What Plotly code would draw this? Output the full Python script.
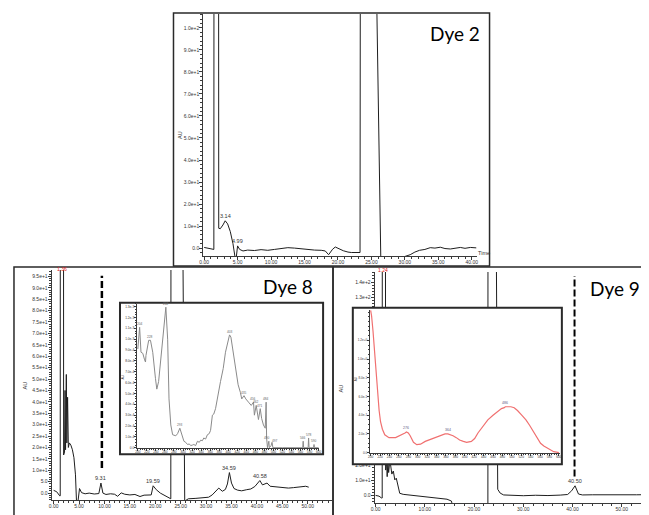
import plotly.graph_objects as go

# ---------------- data ----------------
# Dye 2 chromatogram (time in min, absorbance AU)
dye2_time = [0.0, 0.4, 0.8, 1.2, 1.44, 1.46, 2.15, 2.17, 2.4, 2.8, 3.14, 3.5, 3.9, 4.3, 4.6, 4.8, 4.99, 5.3, 5.8, 6.5,
             7.5, 8.5, 9.5, 10.5, 11.5, 12.5, 13.5, 14.5, 15.5, 16.5, 17.5, 18.1, 18.6, 19.2, 19.6, 20.2, 20.8, 21.5, 22.0, 23.3,
             23.35, 25.6, 26.4, 27.5, 28.5, 29.8, 30.8, 31.5, 32.2, 33.0, 33.8, 34.5, 35.3, 36.0, 36.8, 37.5, 38.3, 39.0, 39.8, 40.7]
dye2_au = [0.3, 0.0, -0.3, -0.5, -0.6, 150, 150, 9.0, 8.8, 10.5, 12.4, 11.0, 7.5, 2.0, -4.0, -4.0, 1.0, -0.6, -1.3, -0.9,
           -1.1, -0.7, -1.0, -0.6, -0.2, 0.2, 0.0, -0.4, -0.7, -0.9, -1.0, -1.3, -3.0, -0.5, 0.5, -0.4, -1.2, -1.8, -2.0, -2.0,
           150, 150, -4.0, -4.0, -4.0, -4.0, -3.0, -1.8, -1.0, -0.6, 0.2, 0.0, 0.4, -0.2, -0.4, 0.0, 0.3, -0.1, 0.3, 0.1]
dye2_peaks = [3.14, 4.99]

# Dye 8 chromatogram
dye8_time = [0.0, 0.6, 1.2, 1.30, 1.32, 1.95, 1.97, 2.15, 2.25, 2.35, 2.5, 2.6, 2.75, 2.9, 3.1, 3.4, 3.7, 4.0, 4.3, 4.5,
             4.8, 5.1, 5.5, 6.2, 7.0, 8.0, 8.9, 9.31, 9.7, 10.3, 11.2, 12.0, 12.6, 13.3, 14.0, 15.0, 16.0, 17.0, 17.8, 18.6,
             19.2, 19.59, 20.2, 21.0, 22.0, 22.9, 23.06, 23.1, 25.3, 25.8, 26.5, 28.0, 29.5, 30.5, 31.2, 31.8, 32.5, 33.2, 33.8, 34.2,
             34.59, 35.0, 35.5, 36.2, 37.0, 38.0, 38.8, 39.6, 40.1, 40.58, 41.1, 41.6, 42.0, 42.6, 43.4, 44.2, 45.2, 46.2, 47.2, 48.1,
             49.0, 49.6, 50.2]
dye8_au = [1.2, 0.6, -1.2, -1.2, 150, 150, 16.7, 18, 45, 19, 52, 22, 42, 20, 22, 21, 19, 15.5, 8, -3.5,
           -3.5, 2.0, 0.2, -0.3, 0.0, -0.4, -0.2, 4.4, 0.0, -0.6, -0.3, -0.5, -1.4, 0.1, -0.5, -0.8, -0.6, -1.5, -0.9, -1.0,
           -0.8, 3.2, 1.5, 0.0, -1.2, -2.0, -2.5, 150, 150, -3.5, -2.5, -2.3, -2.0, -1.8, -0.8, 0.5, 2.2, 0.8, 1.6, 4.0,
           9.0, 4.4, 2.0, 1.3, 1.0, 1.5, 1.8, 2.9, 4.2, 5.5, 3.6, 4.0, 4.4, 3.0, 2.8, 2.6, 2.4, 2.2, 2.4, 2.6,
           2.8, 3.0, 2.6]
dye8_peaks = [9.31, 19.59, 34.59, 40.58]
dye8_marker_time = 9.5
dye8_marker_au = [11.0, 95.3]

# Dye 8 inset UV-Vis spectrum (nm, AU x 1e-4)
dye8_wl = [200, 204, 207, 211, 215, 217, 218, 224, 228, 233,
           239, 242, 246, 251, 256, 262, 266, 269, 273, 277,
           284, 288, 293, 297, 302, 306, 310, 314, 317, 321,
           324, 328, 332, 336, 339, 343, 346, 350, 354, 358,
           361, 365, 368, 372, 378, 383, 389, 394, 403, 406,
           410, 416, 422, 427, 430, 435, 439, 445, 451, 456,
           458, 462, 465, 467, 471, 474, 478, 482, 484, 485,
           487, 490, 491, 495, 497, 499, 520, 540, 560, 565,
           566, 567, 577, 578, 579, 589, 590, 591, 600]
dye8_abs = [9.1, 11.1, 8.8, 8.7, 8.1, 7.9, 8.5, 9.9, 9.9, 8.8,
            6.4, 5.4, 6.1, 8.2, 10.0, 12.95, 10.0, 4.5, 2.1, 1.2,
            1.1, 1.3, 1.8, 1.2, 0.6, 0.5, 0.3, 0.35, 0.2, 0.25,
            0.3, 0.2, 0.6, 0.5, 0.7, 0.65, 0.9, 0.8, 1.2, 1.3,
            1.6, 3.0, 3.1, 3.6, 5.1, 6.1, 7.3, 8.8, 10.4, 10.2,
            9.1, 7.6, 5.8, 5.1, 4.5, 4.8, 4.5, 4.2, 3.9, 4.2,
            3.0, 3.9, 3.2, 2.6, 3.6, 2.7, 2.1, 1.8, 4.2, 0.9,
            0.0, 0.6, 0.0, 0.2, 0.5, 0.0, 0.0, 0.0, 0.0, 0.0,
            0.6, 0.0, 0.0, 0.9, 0.0, 0.0, 0.3, 0.0, 0.0]
dye8_spec_peaks = [204, 228, 262, 293, 403, 435, 456, 462, 471, 484, 490, 497, 566, 578, 590]

# Dye 9 chromatogram
dye9_time = [0.0, 0.7, 1.2, 1.34, 1.36, 2.0, 2.05, 2.2, 2.35, 2.5, 2.65, 2.8, 3.0, 3.3, 3.6, 3.9, 4.2, 4.6, 4.9, 5.6,
             7.0, 9.0, 11.0, 13.0, 14.5, 15.4, 15.7, 16.5, 19.0, 22.0, 22.8, 22.82, 24.5, 24.8, 25.3, 26.0, 27.5, 30.0, 32.5, 35.0,
             37.5, 39.0, 39.8, 40.5, 41.2, 42.0, 44.0, 47.0, 50.0, 53.0, 55.5]
dye9_au = [0.0, -0.5, -1.7, -1.7, 170, 170, 16.6, 25, 12.3, 22, 15, 20, 21, 14, 16, 10.2, 11.3, 4.7, 1.4, 0.7,
           0.2, -0.4, -1.0, -1.8, -2.5, -3.7, -8, -8, -8, -8, -8, 170, 170, 4.0, 1.5, 0.3, 0.0, -0.2, 0.1, -0.1,
           0.2, 0.6, 3.0, 6.3, 0.9, 0.3, 0.4, 0.3, 0.5, 0.4, 0.5]
dye9_peaks = [40.5]
dye9_marker_time = 40.4
dye9_marker_au = [12.4, 144.0]

# Dye 9 inset UV-Vis spectrum (nm, AU)
dye9_wl = [200, 202, 205, 208, 211, 214, 218, 221, 225, 230, 239, 253, 267, 273, 276, 280, 284, 288, 291, 298,
           306, 316, 327, 337, 348, 358, 364, 367, 375, 382, 389, 397, 404, 414, 421, 428, 438, 449, 460, 470,
           478, 484, 486, 492, 498, 505, 512, 521, 530, 538, 547, 554, 561, 568, 575, 582, 589, 595, 600]
dye9_abs = [1.52, 1.46, 1.30, 1.10, 0.88, 0.65, 0.45, 0.33, 0.25, 0.19, 0.16, 0.16, 0.19, 0.21, 0.22, 0.21, 0.18, 0.13, 0.11, 0.085,
            0.09, 0.12, 0.14, 0.16, 0.18, 0.20, 0.20, 0.195, 0.18, 0.16, 0.135, 0.12, 0.11, 0.12, 0.15, 0.21, 0.28, 0.35, 0.40, 0.44,
            0.47, 0.48, 0.49, 0.49, 0.49, 0.48, 0.45, 0.40, 0.35, 0.29, 0.22, 0.16, 0.10, 0.07, 0.05, 0.03, 0.01, 0.005, 0.0]
dye9_spec_peaks = [276, 364, 486]

# tick labels
dye2_yticks = [0, 10, 20, 30, 40, 50, 60, 70, 80, 90, 100]
dye2_ylabels = ["0.0", "1.0e+1", "2.0e+1", "3.0e+1", "4.0e+1", "5.0e+1", "6.0e+1", "7.0e+1", "8.0e+1", "9.0e+1", "1.0e+2"]
dye2_xticks = [0, 5, 10, 15, 20, 25, 30, 35, 40]
dye2_xlabels = ["0.00", "5.00", "10.00", "15.00", "20.00", "25.00", "30.00", "35.00", "40.00"]

dye8_yticks = [0, 5, 10, 15, 20, 25, 30, 35, 40, 45, 50, 55, 60, 65, 70, 75, 80, 85, 90, 95]
dye8_ylabels = ["0.0", "5.0", "1.0e+1", "1.5e+1", "2.0e+1", "2.5e+1", "3.0e+1", "3.5e+1", "4.0e+1", "4.5e+1",
                "5.0e+1", "5.5e+1", "6.0e+1", "6.5e+1", "7.0e+1", "7.5e+1", "8.0e+1", "8.5e+1", "9.0e+1", "9.5e+1"]
dye8_xticks = [0, 5, 10, 15, 20, 25, 30, 35, 40, 45, 50]
dye8_xlabels = ["0.00", "5.00", "10.00", "15.00", "20.00", "25.00", "30.00", "35.00", "40.00", "45.00", "50.00"]

# only the Dye 9 labels left visible beside the inset
dye9_yticks = [0, 10, 20, 130, 140]
dye9_ylabels = ["0.0", "1.0e+1", "2.0e+1", "1.3e+2", "1.4e+2"]
dye9_xticks = [0, 10, 20, 30, 40, 50]
dye9_xlabels = ["0.00", "10.00", "20.00", "30.00", "40.00", "50.00"]

wl_ticks = [200, 220, 240, 260, 280, 300, 320, 340, 360, 380, 400, 420, 440, 460, 480, 500, 520, 540, 560, 580, 600]
wl_labels = ["200", "220", "240", "260", "280", "300", "320", "340", "360", "380", "400", "420", "440", "460", "480",
             "500", "520", "540", "560", "580", "600"]
ins8_yticks = [0, 1, 2, 3, 4, 5, 6, 7, 8, 9, 10, 11, 12, 13]
ins8_ylabels = ["0.0", "1.0e-4", "2.0e-4", "3.0e-4", "4.0e-4", "5.0e-4", "6.0e-4", "7.0e-4", "8.0e-4", "9.0e-4",
                "1.0e-3", "1.1e-3", "1.2e-3", "1.3e-3"]
ins9_yticks = [0, 0.2, 0.4, 0.6, 0.8, 1.0, 1.2]
ins9_ylabels = ["0.0", "2.0e-1", "4.0e-1", "6.0e-1", "8.0e-1", "1.0e+0", "1.2e+0"]

# ---------------- layout helpers ----------------
W, H = 649, 515
OFF = 8  # the page body margin shifts the figure by 8 px
FONT = "Liberation Sans"
AX = "#3a3a3a"
TXT = "#333333"
LINE = "#1e1e1e"


def fx(p):
    return (p - OFF) / W


def fy(p):
    return 1 - (p - OFF) / H


def xdom(a, b):
    return [fx(a), fx(b)]


def ydom(top, bottom):
    return [fy(bottom), fy(top)]


def axis(domain, rng, anchor, tickvals=None, ticktext=None, minor_dtick=None, size=5, ticklen=3, is_x=True):
    d = dict(domain=domain, range=rng, anchor=anchor, showline=True, linecolor=AX, linewidth=1,
             showgrid=False, zeroline=False, fixedrange=True,
             ticks="outside", ticklen=ticklen, tickwidth=1, tickcolor=AX,
             tickmode="array", tickvals=tickvals, ticktext=ticktext,
             tickfont=dict(size=size, color=TXT, family=FONT))
    if minor_dtick is not None:
        d["minor"] = dict(ticks="outside", ticklen=max(1, ticklen - 1), tickcolor=AX, tickwidth=1,
                          tickmode="linear", tick0=0, dtick=minor_dtick, showgrid=False)
    if is_x:
        d["ticklabelstandoff"] = -2
    else:
        d["ticklabelstandoff"] = -1
    return d


def blank_axis(domain, anchor):
    return dict(domain=domain, range=[0, 1], anchor=anchor, showline=False, showgrid=False, zeroline=False,
                showticklabels=False, ticks="", fixedrange=True)


fig = go.Figure()

fig.add_trace(go.Scatter(x=dye2_time, y=dye2_au, mode="lines", line=dict(color=LINE, width=1), xaxis="x", yaxis="y"))
fig.add_trace(go.Scatter(x=dye8_time, y=dye8_au, mode="lines", line=dict(color=LINE, width=1), xaxis="x2", yaxis="y2"))
fig.add_trace(go.Scatter(x=[], y=[], mode="lines", xaxis="x3", yaxis="y3"))
fig.add_trace(go.Scatter(x=dye8_wl, y=dye8_abs, mode="lines", line=dict(color="#8a8a8a", width=1), xaxis="x4", yaxis="y4"))
fig.add_trace(go.Scatter(x=dye9_time, y=dye9_au, mode="lines", line=dict(color=LINE, width=1), xaxis="x5", yaxis="y5"))
fig.add_trace(go.Scatter(x=[], y=[], mode="lines", xaxis="x6", yaxis="y6"))
fig.add_trace(go.Scatter(x=dye9_wl, y=dye9_abs, mode="lines", line=dict(color="#f07070", width=1.2), xaxis="x7", yaxis="y7"))

layout = dict(
    width=W, height=H, autosize=False, margin=dict(l=0, r=0, t=0, b=0),
    paper_bgcolor="white", plot_bgcolor="white", showlegend=False,
    font=dict(family=FONT, color=TXT),
    # Dye 2
    xaxis=axis(xdom(201, 477), [-0.15, 40.74], "y", dye2_xticks, dye2_xlabels, 1),
    yaxis=axis(ydom(14, 257), [-3.6, 106.3], "x", dye2_yticks, dye2_ylabels, 2, is_x=False),
    # Dye 8
    xaxis2=axis(xdom(48, 331), [-0.39, 54.78], "y2", dye8_xticks, dye8_xlabels, 1),
    yaxis2=axis(ydom(271, 502), [-3.06, 97.8], "x2", dye8_yticks, dye8_ylabels, 1, is_x=False),
    # Dye 8 inset cover + inset
    xaxis3=blank_axis(xdom(117, 322), "y3"),
    yaxis3=blank_axis(ydom(304, 456), "x3"),
    xaxis4=axis(xdom(134, 318), [197.8, 601.3], "y4", wl_ticks, wl_labels, 5, size=3.2, ticklen=2),
    yaxis4=axis(ydom(305, 450), [-0.05, 13.26], "x4", ins8_yticks, ins8_ylabels, 0.25, size=3.2, ticklen=2, is_x=False),
    # Dye 9
    xaxis5=axis(xdom(374, 649 + OFF), [-0.2, 55.13 + OFF / 4.97], "y5", dye9_xticks, dye9_xlabels, 2),
    yaxis5=axis(ydom(273, 505), [-5.03, 146.6], "x5", dye9_yticks, dye9_ylabels, 2, is_x=False),
    # Dye 9 inset cover + inset
    xaxis6=blank_axis(xdom(352, 563), "y6"),
    yaxis6=blank_axis(ydom(309, 466), "x6"),
    xaxis7=axis(xdom(369, 561), [197.9, 602.1], "y7", wl_ticks, wl_labels, 5, size=3.2, ticklen=2),
    yaxis7=axis(ydom(311, 455), [-0.007, 1.526], "x7", ins9_yticks, ins9_ylabels, 0.05, size=3, ticklen=2, is_x=False),
)
fig.update_layout(**layout)

# ---------------- annotations ----------------
ann = []
# small nudges for crowded spectrum labels (pixels)
label_nudge = {490: (-2, 0), 497: (3, -2)}


def peak_labels(times, values, peaks, xr, yr, size=5.5, color=TXT, shift=5):
    lookup = dict(zip(times, values))
    for p in peaks:
        dx, dy = label_nudge.get(p, (0, 0)) if isinstance(p, int) else (0, 0)
        ann.append(dict(x=p, y=lookup[p], xref=xr, yref=yr, text=f"{p:.2f}" if isinstance(p, float) else str(p),
                        showarrow=False, yshift=shift + dy, xshift=dx,
                        font=dict(size=size, color=color, family=FONT)))


peak_labels(dye2_time, dye2_au, dye2_peaks, "x", "y")
peak_labels(dye8_time, dye8_au, dye8_peaks, "x2", "y2")
peak_labels(dye9_time, dye9_au, dye9_peaks, "x5", "y5")
peak_labels(dye8_wl, dye8_abs, dye8_spec_peaks, "x4", "y4", size=3.2, color="#666666", shift=3)
peak_labels(dye9_wl, dye9_abs, dye9_spec_peaks, "x7", "y7", size=3.5, color="#5a5a80", shift=4)

# titles
for txt, px, py in [("Dye 2", 455, 34), ("Dye 8", 287, 288), ("Dye 9", 617, 290)]:
    ann.append(dict(x=fx(px), y=fy(py), xref="paper", yref="paper", text=txt, showarrow=False,
                    xanchor="center", yanchor="middle", font=dict(size=19, color="black", family="Lato")))

# axis titles
for px, py, s in [(177, 135, 5.5), (21, 387, 5.5), (340, 390, 5.5), (120, 378, 3.2), (355, 381, 3)]:
    ann.append(dict(x=fx(px), y=fy(py), xref="paper", yref="paper", text="AU", textangle=-90, showarrow=False,
                    xanchor="center", yanchor="middle", font=dict(size=s, color=TXT, family=FONT)))
ann.append(dict(x=fx(484), y=fy(254), xref="paper", yref="paper", text="Time", showarrow=False,
                xanchor="center", yanchor="middle", font=dict(size=5.5, color=TXT, family=FONT)))
# red retention time tags on off-scale peaks
ann.append(dict(x=1.6, y=fy(270), xref="x2", yref="paper", text="1.36", showarrow=False,
                font=dict(size=5, color="#e02020", family=FONT)))
ann.append(dict(x=1.6, y=fy(271), xref="x5", yref="paper", text="1.24", showarrow=False,
                font=dict(size=5, color="#e02020", family=FONT)))
fig.update_layout(annotations=ann)

# ---------------- shapes ----------------
shapes = []
shapes.append(dict(type="line", xref="x2", yref="y2", x0=dye8_marker_time, x1=dye8_marker_time,
                   y0=dye8_marker_au[0], y1=dye8_marker_au[1], line=dict(color="black", width=2.5, dash="7px,3px"),
                   layer="above"))
shapes.append(dict(type="line", xref="x5", yref="y5", x0=dye9_marker_time, x1=dye9_marker_time,
                   y0=dye9_marker_au[0], y1=dye9_marker_au[1], line=dict(color="black", width=2, dash="7px,3px"),
                   layer="above"))
BOX = "#2a2a2a"
for x0, x1, y0, y1, w in [(171, 490, 13, 267, 1.5), (10, 332, 268, 540, 1.5), (332, 680, 268, 540, 1.5),
                          (117, 322, 304, 456, 2), (352, 563, 309, 466, 2)]:
    shapes.append(dict(type="rect", xref="paper", yref="paper", x0=fx(x0), x1=fx(x1), y0=fy(y1), y1=fy(y0),
                       line=dict(color=BOX, width=w), fillcolor="rgba(0,0,0,0)", layer="above"))
fig.update_layout(shapes=shapes)

fig.write_html("out.html")
